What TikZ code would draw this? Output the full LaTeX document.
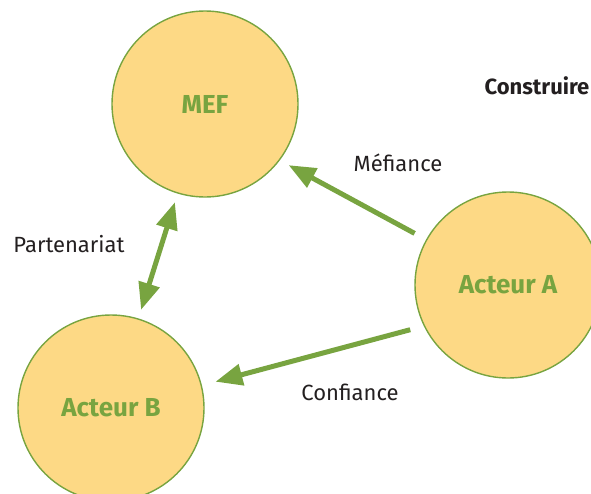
\documentclass[tikz,border=0pt]{standalone}
\usepackage{fontspec}
\setmainfont{Fira Sans}
\usetikzlibrary{positioning, arrows.meta}
\definecolor{mefgreen}{HTML}{78A440}
\definecolor{mefyellow}{HTML}{FDD985}
\definecolor{mefdark}{HTML}{231F20}

\begin{document}
\begin{tikzpicture}[
    x=1pt, y=-1pt,
    >={Triangle[length=27pt, width=21pt]},
    acteur/.style={circle, draw=mefgreen, line width=1.4pt, fill=mefyellow,
        minimum size=186pt, inner sep=0pt, text=mefgreen,
        font=\fontsize{26}{30}\selectfont\bfseries},
    lien/.style={line width=5pt, draw=mefgreen},
    etiquette/.style={font=\fontsize{22}{26}\selectfont, text=mefdark}
]
\useasboundingbox (0,0) rectangle (591,493);

% cercles
\node[acteur] (mef) at (205,104) {MEF};
\node[acteur] (a) at (508,285) {Acteur A};
\node[acteur] (b) at (111,408) {Acteur B};

% titre coupé
\node[anchor=west, font=\fontsize{22}{26}\selectfont\bfseries, text=mefdark] (titre) at (481,86) {Construire};

% relations
\draw[lien, ->, shorten <=13pt, shorten >=10pt] (a.151) -- (mef.-37.5);
\draw[lien, <->, shorten <=9pt, shorten >=9pt] (mef.-107) -- (b.73);
\draw[lien, ->, shorten <=14pt, shorten >=14pt] (a.206.6) -- (b.14.6);

% etiquettes
\node[etiquette] (mefiance) at (398,163) {Méfiance};
\node[etiquette] (partenariat) at (69,244) {Partenariat};
\node[etiquette] (confiance) at (350,392) {Confiance};

\end{tikzpicture}
\end{document}
